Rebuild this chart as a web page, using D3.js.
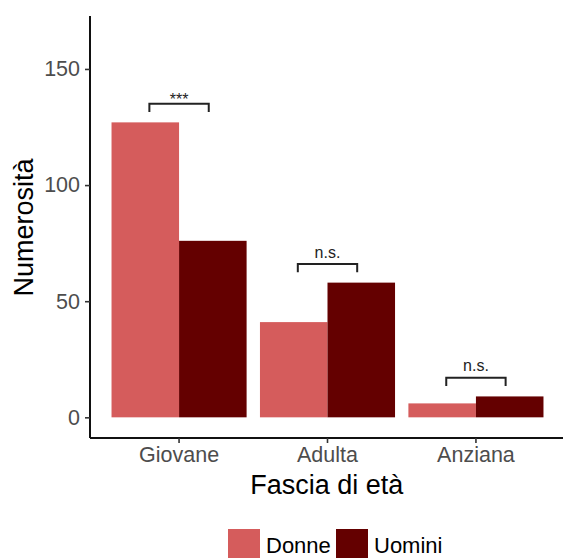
<!DOCTYPE html>
<html><head><meta charset="utf-8">
<script src="https://cdn.jsdelivr.net/npm/d3@7"></script>
<style>body{margin:0;background:#fff}svg{display:block;font-family:"Liberation Sans",Arial,sans-serif}</style>
</head><body><svg id="c" width="563" height="558"></svg>
<script>
const categories = ["Giovane", "Adulta", "Anziana"];
const groups = ["Donne", "Uomini"];
const donne = [127, 41, 6];
const uomini = [76, 58, 9];
const sigLabels = ["***", "n.s.", "n.s."];
const yTicks = [0, 50, 100, 150];
const colors = ["#d55c5c", "#640000"];

(function () {
const svg = d3.select("#c");
const pLeft = 90, pRight = 565, pTop = 16, pBottom = 438;
const y = d3.scaleLinear().domain([-8.9, 172.8]).range([pBottom, pTop]);
const x = d3.scaleBand().domain(categories).range([pLeft, pRight]).paddingInner(0.09).paddingOuter(0.145);
const xs = d3.scaleBand().domain(groups).range([0, x.bandwidth()]);

const data = categories.map((c, i) => ({cat: c, vals: [donne[i], uomini[i]]}));

const g = svg.append("g");
data.forEach((d, i) => {
  d.vals.forEach((v, j) => {
    g.append("rect")
      .attr("x", x(d.cat) + xs(groups[j]))
      .attr("width", xs.bandwidth())
      .attr("y", y(v))
      .attr("height", y(0) - y(v))
      .attr("fill", colors[j]);
  });
  const m = Math.max(...d.vals);
  const c = x(d.cat) + x.bandwidth() / 2;
  const step = x.step();
  const x1 = c - 0.2 * step, x2 = c + 0.2 * step;
  const yt = y(m + 8), yb = y(m + 4.5);
  g.append("path")
    .attr("d", `M${x1},${yb}V${yt}H${x2}V${yb}`)
    .attr("fill", "none").attr("stroke", "#222").attr("stroke-width", 2);
  const isStar = sigLabels[i].includes("*");
  g.append("text").attr("x", c).attr("y", isStar ? yt + 1 : yt - 6.5)
    .attr("text-anchor", "middle").attr("font-size", 16).attr("fill", "#222")
    .text(sigLabels[i]);
});

const ya = svg.append("g").attr("transform", `translate(${pLeft},0)`)
  .call(d3.axisLeft(y).tickValues(yTicks).tickSize(5).tickPadding(5));
const xa = svg.append("g").attr("transform", `translate(0,${pBottom})`)
  .call(d3.axisBottom(x).tickSize(5).tickPadding(4));
[ya, xa].forEach(a => {
  a.select(".domain").attr("stroke", "#111").attr("stroke-width", 2);
  a.selectAll(".tick line").attr("stroke", "#333").attr("stroke-width", 1.6);
  a.selectAll(".tick text").attr("fill", "#4d4d4d").attr("font-size", 21.5)
    .attr("font-family", "Liberation Sans, Arial, sans-serif");
});
xa.select(".domain").attr("d", `M${pLeft},0H${pRight}`);
ya.select(".domain").attr("d", `M0,${pTop}V${pBottom}`);

svg.append("text").attr("transform", `translate(33,227.5) rotate(-90)`)
  .attr("text-anchor", "middle").attr("font-size", 27).attr("fill", "#000").text("Numerosità");
svg.append("text").attr("x", 326.7).attr("y", 494)
  .attr("text-anchor", "middle").attr("font-size", 27).attr("fill", "#000").text("Fascia di età");

const leg = svg.append("g");
const legX = [228, 336];
groups.forEach((gname, j) => {
  leg.append("rect").attr("x", legX[j]).attr("y", 529).attr("width", 32).attr("height", 32).attr("fill", colors[j]);
  leg.append("text").attr("x", legX[j] + 38).attr("y", 553).attr("font-size", 22).attr("fill", "#000").text(gname);
});
})();
</script></body></html>
